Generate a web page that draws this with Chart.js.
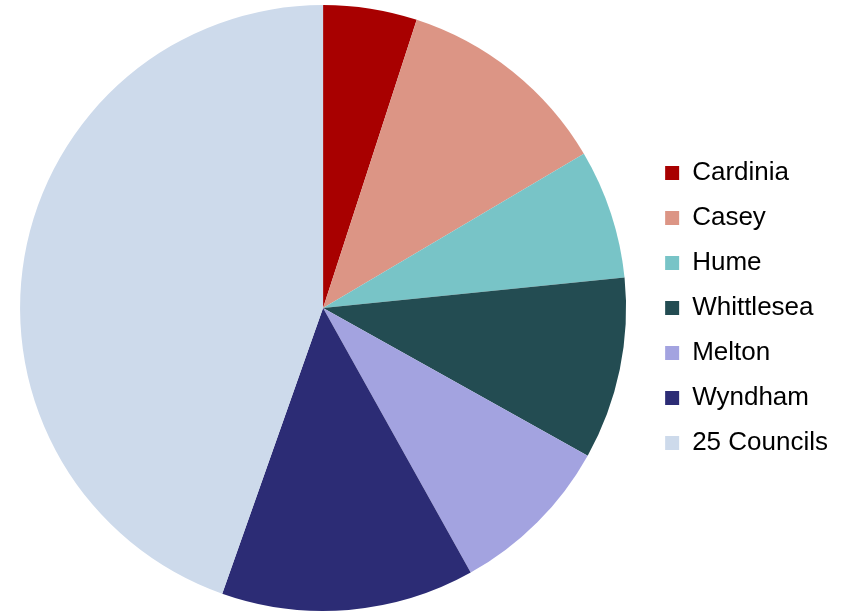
<!DOCTYPE html>
<html>
<head>
<meta charset="utf-8">
<script src="https://cdn.jsdelivr.net/npm/chart.js@4"></script>
<style>
  body { margin: 0; background: #fff; }
  #wrap { width: 846px; height: 612px; }
</style>
</head>
<body>
<div id="wrap"><canvas id="pieChart" width="846" height="612"></canvas></div>
<script>
const councils = ["Cardinia", "Casey", "Hume", "Whittlesea", "Melton", "Wyndham", "25 Councils"];
const shares = [5.0, 11.5, 6.9, 9.7, 8.8, 13.5, 44.6];
const colours = ["#A80000", "#DC9585", "#78C4C7", "#234C52", "#A3A3E0", "#2C2C75", "#CDDAEB"];

const ctx = document.getElementById("pieChart").getContext("2d");

const pieChart = new Chart(ctx, {
  type: "pie",
  data: {
    labels: councils,
    datasets: [
      {
        data: shares,
        backgroundColor: colours,
        borderWidth: 0,
      },
    ],
  },
  options: {
    responsive: false,
    animation: false,
    layout: {
      padding: { top: 5, bottom: 1, left: 0, right: 8 },
    },
    plugins: {
      tooltip: { enabled: false },
      legend: {
        position: "right",
        align: "center",
        labels: {
          boxWidth: 14,
          boxHeight: 14,
          padding: 19,
          color: "#000",
          font: { family: "Liberation Sans, Arial, sans-serif", size: 26 },
        },
      },
    },
  },
});
</script>
</body>
</html>
